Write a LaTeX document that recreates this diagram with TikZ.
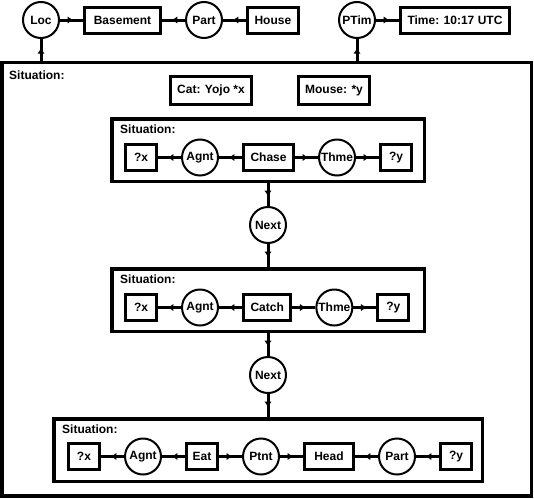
\documentclass[tikz,border=0pt]{standalone}
\usepackage{fontspec}
\setmainfont{Liberation Sans}
\usetikzlibrary{arrows.meta,positioning,decorations.markings}

\begin{document}
\begin{tikzpicture}[x=1pt, y=-1pt, node distance = 23pt and 23pt,
    every node/.style={font=\fontsize{12}{14}\selectfont\bfseries},
    concept/.style={rectangle,minimum width=31pt,minimum height=26pt,inner xsep=7pt,line width=3pt,draw=black},
    relation/.style={circle,minimum size=36pt,inner sep=0pt,line width=2pt,draw=black},
    situation/.style={rectangle,line width=3.5pt,draw=black},
    sitlabel/.style={inner sep=0pt},
    link/.style={line width=3pt,decoration={markings,mark=at position 0.55 with {\arrow{Triangle[length=5pt,width=6.5pt]}}},postaction={decorate}},
   ]
    \useasboundingbox (0,0) rectangle (534,498);

    % top line
    \node (loc)      [relation] at (41,20) {Loc};
    \node (basement) [concept,right=of loc,minimum width=76pt] {Basement};
    \node (part0)    [relation,right=of basement] {Part};
    \node (house)    [concept,right=of part0] {House};
    \node (ptim)     [relation] at (357,20) {PTim};
    \node (time)     [concept,right=of ptim] {Time: 10:17 UTC};

    % outer situation
    \node (sit0) [situation,minimum width=529.5pt,minimum height=433.5pt] at (266.5,279) {};
    \node (lab0) [sitlabel,below right=10pt and 9pt of sit0.north west] {Situation:};
    \node (cat)   [concept,minimum height=28pt] at (211,90.5) {Cat: Yojo *x};
    \node (mouse) [concept,minimum height=28pt] at (334,90.5) {Mouse: *y};

    % chase
    \node (sit1) [situation,minimum width=312.5pt,minimum height=62.5pt] at (268,150) {};
    \node (lab1) [sitlabel,below right=8pt and 10pt of sit1.north west] {Situation:};
    \node (x1)     [concept,below right=26pt and 14pt of sit1.north west] {?x};
    \node (agnt1)  [relation,right=of x1] {Agnt};
    \node (chase)  [concept,right=of agnt1] {Chase};
    \node (thme1)  [relation,right=of chase] {Thme};
    \node (y1)     [concept,right=of thme1] {?y};

    \node (next1) [relation,below=of sit1] {Next};

    % catch
    \node (sit2) [situation,minimum width=312.5pt,minimum height=62.5pt,below=of next1] {};
    \node (lab2) [sitlabel,below right=8pt and 10pt of sit2.north west] {Situation:};
    \node (x2)     [concept,below right=26pt and 14pt of sit2.north west] {?x};
    \node (agnt2)  [relation,right=of x2] {Agnt};
    \node (catch)  [concept,right=of agnt2] {Catch};
    \node (thme2)  [relation,right=of catch] {Thme};
    \node (y2)     [concept,right=of thme2] {?y};

    \node (next2) [relation,below=of sit2] {Next};

    % eat
    \node (sit3) [situation,minimum width=428.5pt,minimum height=62.5pt,below=of next2] {};
    \node (lab3) [sitlabel,below right=8pt and 10pt of sit3.north west] {Situation:};
    \node (x3)     [concept,below right=25pt and 15pt of sit3.north west] {?x};
    \node (agnt3)  [relation,right=of x3] {Agnt};
    \node (eat)    [concept,right=of agnt3,inner xsep=5pt] {Eat};
    \node (ptnt)   [relation,right=of eat] {Ptnt};
    \node (head)   [concept,right=of ptnt,minimum width=49pt] {Head};
    \node (part3)  [relation,right=of head] {Part};
    \node (y3)     [concept,right=of part3] {?y};

    \draw[link] (loc) -- (basement);
    \draw[link] (part0) -- (basement);
    \draw[link] (house) -- (part0);
    \draw[link] (ptim) -- (time);
    \draw[link] (sit0.north -| loc) -- (loc);
    \draw[link] (sit0.north -| ptim) -- (ptim);

    \draw[link] (agnt1) -- (x1);
    \draw[link] (chase) -- (agnt1);
    \draw[link] (chase) -- (thme1);
    \draw[link] (thme1) -- (y1);

    \draw[link] (agnt2) -- (x2);
    \draw[link] (catch) -- (agnt2);
    \draw[link] (catch) -- (thme2);
    \draw[link] (thme2) -- (y2);

    \draw[link] (agnt3) -- (x3);
    \draw[link] (eat) -- (agnt3);
    \draw[link] (eat) -- (ptnt);
    \draw[link] (ptnt) -- (head);
    \draw[link] (part3) -- (head);
    \draw[link] (y3) -- (part3);

    \draw[link] (sit1) -- (next1);
    \draw[link] (next1) -- (sit2);
    \draw[link] (sit2) -- (next2);
    \draw[link] (next2) -- (sit3);
  \end{tikzpicture}
\end{document}
